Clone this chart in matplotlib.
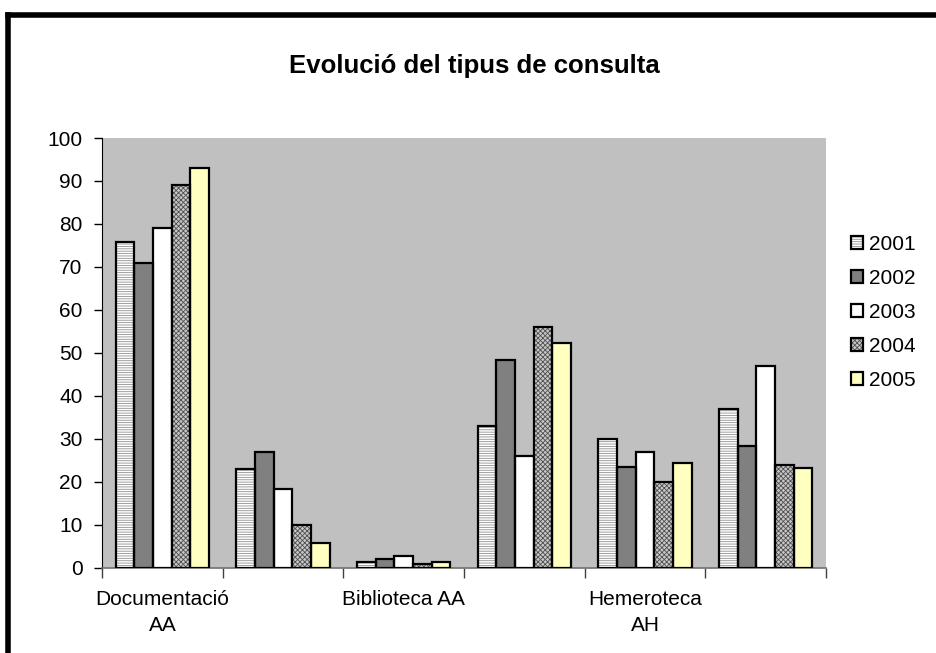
import matplotlib
matplotlib.use("Agg")
import matplotlib.pyplot as plt
from matplotlib.lines import Line2D
from matplotlib.legend_handler import HandlerTuple
import numpy as np

plt.rcParams['font.family'] = ['Liberation Sans', 'DejaVu Sans']
plt.rcParams['hatch.linewidth'] = 0.6

title = "Evolució del tipus de consulta"
years = ["2001", "2002", "2003", "2004", "2005"]
tick_labels = ["Documentació\nAA", "", "Biblioteca AA", "", "Hemeroteca\nAH", ""]

v2001 = [75.7, 23, 1.2, 33, 30, 37]
v2002 = [71, 27, 2.0, 48.3, 23.3, 28.2]
v2003 = [79, 18.2, 2.6, 26, 27, 47]
v2004 = [89, 10, 0.9, 56, 20, 23.8]
v2005 = [93, 5.6, 1.2, 52.3, 24.3, 23.1]
series = [v2001, v2002, v2003, v2004, v2005]

faces = ['#FFFFFF', '#808080', '#FFFFFF', '#C8C8C8', '#FFFFC0']
hatches = ['-------', None, None, 'xxxxxxx', None]
hatch_cols = ['#909090', None, None, '#505050', None]

W, H = 937, 653
fig = plt.figure(figsize=(W / 100, H / 100), dpi=100)
ax = fig.add_axes([102 / W, 1 - 567.5 / H, (826 - 102) / W, (567.5 - 138) / H])
ax.set_facecolor('#C0C0C0')

n = len(tick_labels)
x = np.arange(n) + 0.5
w = 0.155
handles = []
for i, (vals, fc, hc, col) in enumerate(zip(series, faces, hatches, hatch_cols)):
    pos = x + (i - 2) * w
    if hc:
        b1 = ax.bar(pos, vals, w, color=fc, edgecolor=col, hatch=hc, linewidth=0, zorder=2)
    else:
        b1 = ax.bar(pos, vals, w, color=fc, linewidth=0, zorder=2)
    b2 = ax.bar(pos, vals, w, facecolor='none', edgecolor='black', linewidth=1.6, zorder=3)
    handles.append((b1.patches[0], b2.patches[0]))

ax.set_xlim(0, n)
ax.set_ylim(0, 100)
ax.set_yticks(np.arange(0, 101, 10))
ax.tick_params(axis='y', direction='out', length=6, width=1, labelsize=15, pad=8, colors='black')
ax.set_xticks(np.arange(0, n + 1), minor=True)
ax.set_xticks(x)
ax.set_xticklabels(tick_labels, fontsize=15, linespacing=1.5, va='top')
ax.tick_params(axis='x', which='major', length=0, pad=16)
ax.tick_params(axis='x', which='minor', direction='out', length=7, width=1, color='#404040')
for s in ['top', 'right']:
    ax.spines[s].set_visible(False)
ax.spines['left'].set_color('black')
ax.spines['bottom'].set_color('#707070')
ax.spines['bottom'].set_linewidth(1.2)

fig.text(474 / W, 1 - 66 / H, title, fontsize=18.5, fontweight='bold', ha='center', va='center')

leg = fig.legend(handles, years, loc='upper left', bbox_to_anchor=(851 / W, 1 - 235 / H),
                 frameon=False, fontsize=15, handlelength=0.6, handleheight=0.6,
                 handletextpad=0.25, labelspacing=0.72, borderpad=0, borderaxespad=0,
                 handler_map={tuple: HandlerTuple(ndivide=1, pad=0)})

fig.add_artist(Line2D([8.5 / W, 8.5 / W], [1 - 14.5 / H, -0.05], transform=fig.transFigure,
                      color='black', linewidth=4, solid_capstyle='projecting'))
fig.add_artist(Line2D([8.5 / W, 1.05], [1 - 14.5 / H, 1 - 14.5 / H], transform=fig.transFigure,
                      color='black', linewidth=4, solid_capstyle='projecting'))

fig.savefig("out.png", dpi=100)
